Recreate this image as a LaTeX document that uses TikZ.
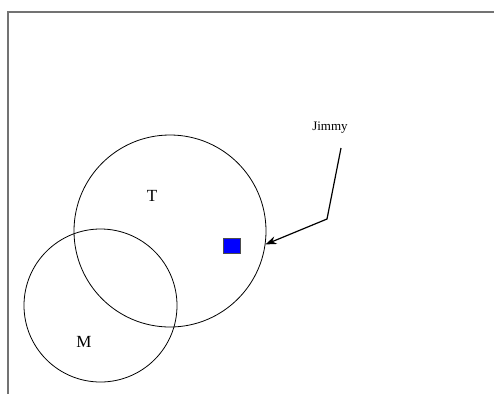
\documentclass[tikz,border=0pt]{standalone}
\usepackage{fontspec}
\setmainfont{Liberation Serif}
\usetikzlibrary{arrows.meta}
\begin{document}
\begin{tikzpicture}[x=1pt,y=-1pt,
  frame/.style={draw=black!55,line width=1.4pt},
  setcircle/.style={circle,draw=black,line width=0.8pt,inner sep=0pt},
  setlabel/.style={font=\fontsize{17}{17}\selectfont,inner sep=0pt},
  person/.style={draw=black!70,fill=blue,line width=0.6pt,minimum width=17pt,minimum height=15pt,inner sep=0pt},
  pointer/.style={draw=black,line width=1.2pt,-{Stealth[length=11pt,width=8pt]}}]
\useasboundingbox (0,0) rectangle (494,394);
\fill[white] (0,0) rectangle (494,394);
\coordinate (f1) at (494,12);
\coordinate (f2) at (8,12);
\coordinate (f3) at (8,394);
\draw[frame] (f1) -- (f2) -- (f3);
\node[setcircle,minimum size=192pt] (T) at (170,231) {};
\node[setcircle,minimum size=153pt] (M) at (100.5,305.5) {};
\node[setlabel] (Tl) at (152,196) {T};
\node[setlabel] (Ml) at (84,342) {M};
\node[person] (sq) at (231.5,245.5) {};
\node[font=\fontsize{13}{13}\selectfont,inner sep=0pt] (J) at (330,128) {Jimmy};
\coordinate (a1) at (341,148);
\coordinate (a2) at (327,219);
\draw[pointer] (a1) -- (a2) -- (T.-8);
\end{tikzpicture}
\end{document}
